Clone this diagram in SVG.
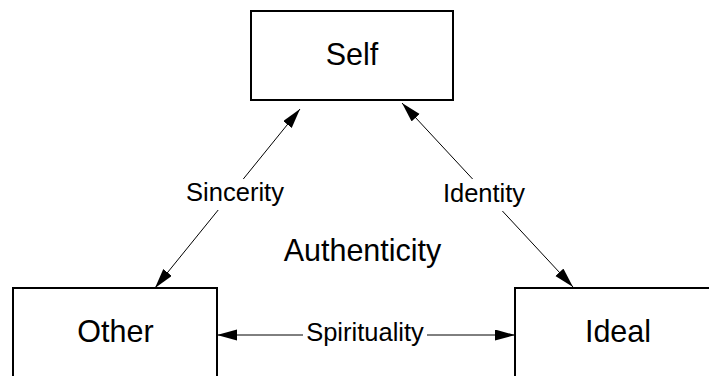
<svg xmlns="http://www.w3.org/2000/svg" width="709" height="376" viewBox="0 0 709 376">
<style>
.box{fill:#fff;stroke:#000;stroke-width:2}
.big{font-family:"Liberation Sans",Arial,sans-serif;font-size:30.5px;fill:#000;text-anchor:middle}
.lbl{font-family:"Liberation Sans",Arial,sans-serif;font-size:25.5px;fill:#000;text-anchor:middle}
.ln{stroke:#000;stroke-width:1;fill:none;marker-end:url(#ah)}
</style>
<defs>
<marker id="ah" markerUnits="userSpaceOnUse" markerWidth="21" markerHeight="12" refX="20" refY="5.5" orient="auto">
<path d="M0,0 L20,5.5 L0,11 z" fill="#000"/>
</marker>
</defs>
<rect width="709" height="376" fill="#fff"/>
<g id="self"><rect class="box" x="251" y="11" width="202" height="89"/><text class="big" x="352" y="65">Self</text></g>
<g id="other"><rect class="box" x="13" y="288" width="204" height="100"/><text class="big" x="115.5" y="342">Other</text></g>
<g id="ideal"><rect class="box" x="515" y="288" width="210" height="100"/><text class="big" x="618" y="342">Ideal</text></g>
<g id="authenticity"><text class="big" x="362.5" y="261">Authenticity</text></g>
<g id="connectors">
<path class="ln" d="M243.3,179 L300,109"/>
<path class="ln" d="M218.2,210 L155,288"/>
<path class="ln" d="M472.6,179 L402,103"/>
<path class="ln" d="M502.4,211 L573,287"/>
<path class="ln" d="M303,335 L217,335"/>
<path class="ln" d="M427,335 L515,335"/>
<text class="lbl" x="235" y="201">Sincerity</text>
<text class="lbl" x="484" y="201.5">Identity</text>
<text class="lbl" x="365" y="341">Spirituality</text>
</g>
</svg>
